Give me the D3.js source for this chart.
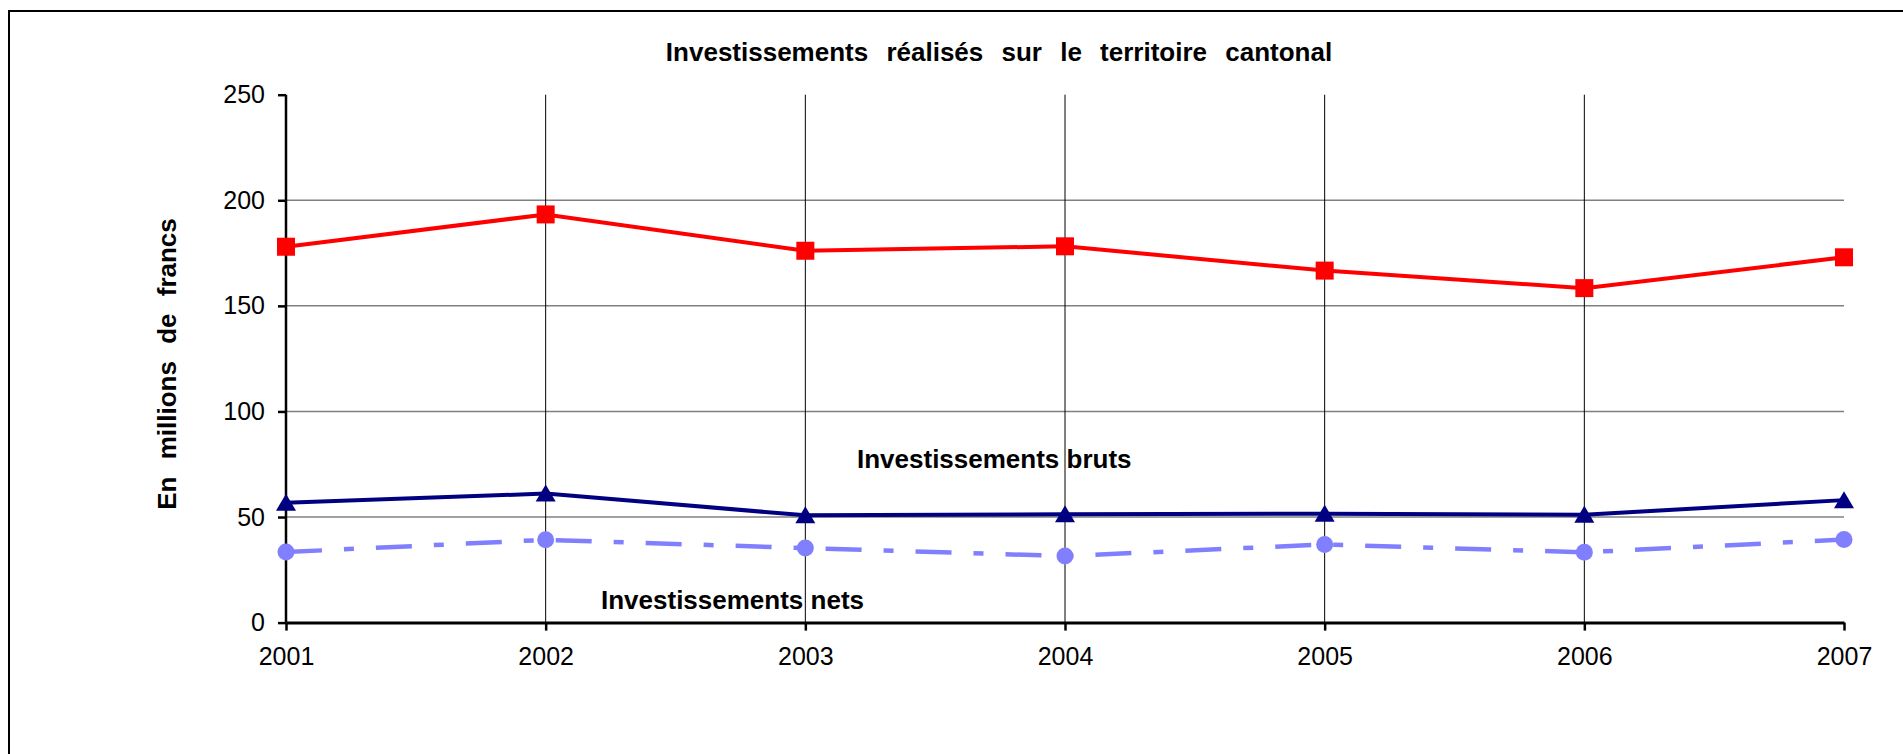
<!DOCTYPE html>
<html>
<head>
<meta charset="utf-8">
<script src="https://cdn.jsdelivr.net/npm/d3@7"></script>
<style>
  body { margin: 0; background: #fff; }
  text { font-family: Arial, "Liberation Sans", sans-serif; }
</style>
</head>
<body>
<svg id="chart" width="1903" height="754"></svg>
<script>
// data
const years = ["2001", "2002", "2003", "2004", "2005", "2006", "2007"];
const total = [178.0, 193.3, 176.1, 178.2, 166.7, 158.4, 173.0];
const bruts = [56.8, 61.1, 50.8, 51.3, 51.6, 51.1, 58.0];
const nets = [33.4, 39.2, 35.3, 31.5, 37.0, 33.3, 39.3];
const yTicks = [0, 50, 100, 150, 200, 250];

const width = 1903;
const height = 754;
const plot = { left: 286, right: 1844, top: 94.7, bottom: 622.6 };

const svg = d3.select("#chart");

// outer frame, runs off the right and bottom edges
svg.append("rect")
  .attr("x", 9).attr("y", 11)
  .attr("width", width).attr("height", height)
  .attr("fill", "#fff")
  .attr("stroke", "#000")
  .attr("stroke-width", 2);

const x = d3.scalePoint().domain(years).range([plot.left, plot.right]);
const y = d3.scaleLinear().domain([0, 250]).range([plot.bottom, plot.top]);

// horizontal grid
svg.append("g")
  .selectAll("line")
  .data(yTicks.filter(d => d > 0 && d < 250))
  .join("line")
    .attr("x1", plot.left).attr("x2", plot.right)
    .attr("y1", d => y(d)).attr("y2", d => y(d))
    .attr("stroke", "#808080")
    .attr("stroke-width", 1.5);

// vertical grid
svg.append("g")
  .selectAll("line")
  .data(years.slice(1, -1))
  .join("line")
    .attr("x1", d => x(d)).attr("x2", d => x(d))
    .attr("y1", plot.top).attr("y2", plot.bottom)
    .attr("stroke", "#000")
    .attr("stroke-width", 1);

// series labels
svg.append("text")
  .attr("x", 857).attr("y", 468)
  .attr("font-size", 26).attr("font-weight", "bold")
  .text("Investissements bruts");
svg.append("text")
  .attr("x", 601).attr("y", 609)
  .attr("font-size", 26).attr("font-weight", "bold")
  .text("Investissements nets");

// axes
const yAxis = svg.append("g")
  .attr("transform", "translate(" + plot.left + ",0)")
  .call(d3.axisLeft(y).tickValues(yTicks).tickSize(8).tickPadding(13));
const xAxis = svg.append("g")
  .attr("transform", "translate(0," + plot.bottom + ")")
  .call(d3.axisBottom(x).tickSize(8).tickPadding(17).tickSizeOuter(0));

yAxis.select(".domain").attr("stroke-width", 2.5).attr("d", "M0," + plot.top + "V" + plot.bottom);
xAxis.select(".domain").attr("stroke-width", 3);
[yAxis, xAxis].forEach(a => {
  a.selectAll(".tick line").attr("stroke-width", 2.5);
  a.selectAll(".tick text")
    .attr("font-size", 25)
    .attr("font-family", "Arial, 'Liberation Sans', sans-serif")
    .attr("fill", "#000");
});

// lines
const line = d3.line().x((d, i) => x(years[i])).y(d => y(d));

svg.append("path").datum(nets)
  .attr("d", line).attr("fill", "none")
  .attr("stroke", "#8080ff").attr("stroke-width", 4.5)
  .attr("stroke-dasharray", "36,22,10,22");
svg.append("path").datum(bruts)
  .attr("d", line).attr("fill", "none")
  .attr("stroke", "#000080").attr("stroke-width", 4);
svg.append("path").datum(total)
  .attr("d", line).attr("fill", "none")
  .attr("stroke", "#ff0000").attr("stroke-width", 4);

// markers
svg.append("g").selectAll("circle")
  .data(nets).join("circle")
    .attr("cx", (d, i) => x(years[i])).attr("cy", d => y(d))
    .attr("r", 8.5).attr("fill", "#8080ff");

svg.append("g").selectAll("path")
  .data(bruts).join("path")
    .attr("d", (d, i) => {
      const cx = x(years[i]), cy = y(d);
      return "M" + (cx - 10) + "," + (cy + 8) + "L" + cx + "," + (cy - 9) + "L" + (cx + 10) + "," + (cy + 8) + "Z";
    })
    .attr("fill", "#000080");

svg.append("g").selectAll("rect")
  .data(total).join("rect")
    .attr("x", (d, i) => x(years[i]) - 9).attr("y", d => y(d) - 9)
    .attr("width", 18).attr("height", 18)
    .attr("fill", "#ff0000");

// titles
svg.append("text")
  .attr("x", 999).attr("y", 61)
  .attr("text-anchor", "middle")
  .attr("font-size", 26).attr("font-weight", "bold")
  .attr("word-spacing", 11)
  .text("Investissements réalisés sur le territoire cantonal");

svg.append("text")
  .attr("transform", "translate(176,364) rotate(-90)")
  .attr("text-anchor", "middle")
  .attr("font-size", 26).attr("font-weight", "bold")
  .attr("word-spacing", 10)
  .text("En millions de francs");
</script>
</body>
</html>
